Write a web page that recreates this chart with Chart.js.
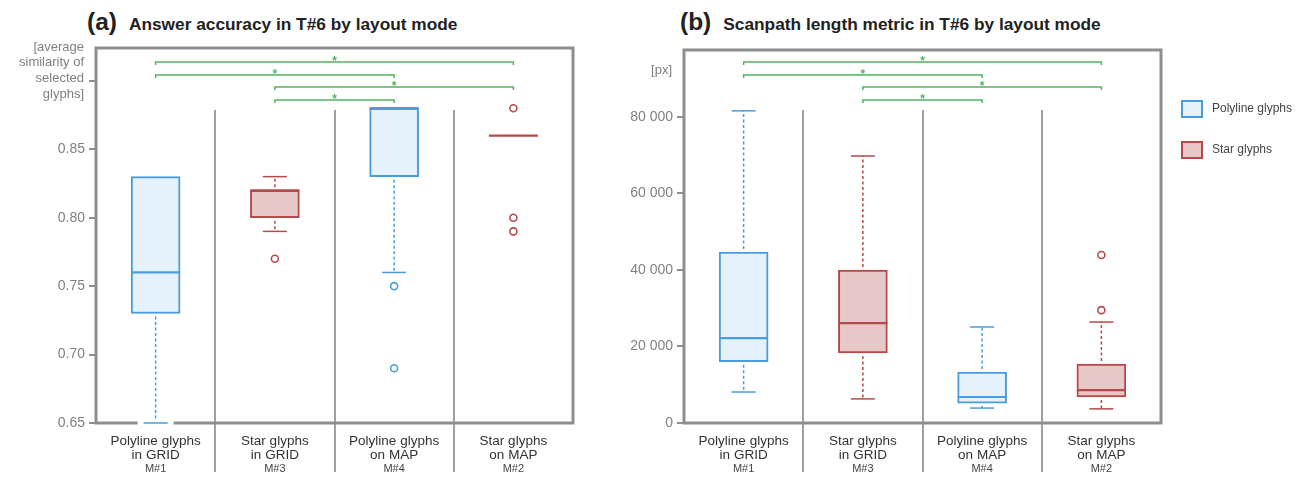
<!DOCTYPE html>
<html>
<head>
<meta charset="utf-8">
<title>T#6 layout modes</title>
<script src="https://cdn.jsdelivr.net/npm/chart.js@4.4.0/dist/chart.umd.min.js"></script>
<style>
  body { margin: 0; background: #fff; width: 1299px; height: 478px; overflow: hidden; position: relative;
         font-family: "Liberation Sans", Arial, sans-serif; }
  canvas { position: absolute; top: 0; }
  #accChart { left: 0; }
  #scanChart { left: 600px; }
  .title { position: absolute; top: 7px; font-size: 24px; line-height: 30px; white-space: nowrap; color: #222; }
  .title .tag { font-weight: bold; font-size: 24.5px; }
  .title .txt { font-weight: bold; font-size: 17.3px; margin-left: 12px; }
</style>
</head>
<body>
<div class="title" style="left:87px"><span class="tag">(a)</span><span class="txt">Answer accuracy in T#6 by layout mode</span></div>
<div class="title" style="left:680px"><span class="tag">(b)</span><span class="txt">Scanpath length metric in T#6 by layout mode</span></div>
<canvas id="accChart" width="600" height="478"></canvas>
<canvas id="scanChart" width="699" height="478"></canvas>
<script>
// Categories (layout modes)
const categoryLines = [["Polyline glyphs", "in GRID"], ["Star glyphs", "in GRID"], ["Polyline glyphs", "on MAP"], ["Star glyphs", "on MAP"]];
const modeCodes = ["M#1", "M#3", "M#4", "M#2"];
const glyphTypes = ["Polyline glyphs", "Star glyphs", "Polyline glyphs", "Star glyphs"];

// (a) answer accuracy - box plot stats
const accMin = [0.65, 0.79, 0.76, 0.86];
const accQ1 = [0.73, 0.80, 0.83, 0.86];
const accMedian = [0.76, 0.82, 0.88, 0.86];
const accQ3 = [0.83, 0.82, 0.88, 0.86];
const accMax = [0.83, 0.83, 0.88, 0.86];
const accOutliers = [[], [0.77], [0.75, 0.69], [0.88, 0.80, 0.79]];
const accTicks = [0.65, 0.70, 0.75, 0.80, 0.85, 0.90];
const accUnit = ["[average", "similarity of", "selected", "glyphs]"];

// (b) scanpath length - box plot stats
const scanMin = [8100, 6300, 3900, 3700];
const scanQ1 = [16000, 18300, 5200, 6800];
const scanMedian = [22200, 26100, 6800, 8600];
const scanQ3 = [44700, 40000, 13300, 15400];
const scanMax = [81600, 69800, 25100, 26400];
const scanOutliers = [[], [], [], [43900, 29500]];
const scanTicks = [0, 20000, 40000, 60000, 80000];
const scanUnit = ["[px]"];

// significant pairs (category indexes), top row first
const sigPairs = [[0, 3], [0, 2], [1, 3], [1, 2]];

const colors = {
  "Polyline glyphs": { stroke: "#4a9ddc", fill: "#e6f2fb" },
  "Star glyphs": { stroke: "#b64a4b", fill: "#e7c8c8" },
};
const frameColor = "#8e8e8e";
const sepColor = "#a0a0a0";
const green = "#55b262";
const greyText = "#808080";
const fontFamily = '"Liberation Sans", Arial, sans-serif';
const BOX_W = 49;
const CAP_W = 24;
const BRACKET_ROWS = [62, 75, 87, 100];

function formatThousands(v) {
  return String(v).replace(/\B(?=(\d{3})+(?!\d))/g, " ");
}

function panelPlugin(p) {
  return {
    id: "panel",
    beforeDatasetsDraw(chart) {
      const ctx = chart.ctx;
      const area = chart.chartArea;
      const xs = chart.scales.x;
      ctx.save();
      // separators between layout modes
      ctx.strokeStyle = sepColor;
      ctx.lineWidth = 2;
      for (let i = 0; i < modeCodes.length - 1; i++) {
        const x = Math.round((xs.getPixelForValue(i) + xs.getPixelForValue(i + 1)) / 2);
        ctx.beginPath();
        ctx.moveTo(x, 110);
        ctx.lineTo(x, area.bottom + 49);
        ctx.stroke();
      }
      // frame
      ctx.strokeStyle = frameColor;
      ctx.lineWidth = 3;
      ctx.strokeRect(area.left, area.top, area.right - area.left, area.bottom - area.top);
      // significance brackets
      ctx.strokeStyle = green;
      ctx.fillStyle = green;
      ctx.lineWidth = 1.5;
      ctx.font = "bold 12px " + fontFamily;
      ctx.textAlign = "center";
      ctx.textBaseline = "alphabetic";
      sigPairs.forEach((pair, r) => {
        const x1 = xs.getPixelForValue(pair[0]);
        const x2 = xs.getPixelForValue(pair[1]);
        const y = BRACKET_ROWS[r];
        ctx.beginPath();
        ctx.moveTo(x1, y + 3);
        ctx.lineTo(x1, y);
        ctx.lineTo(x2, y);
        ctx.lineTo(x2, y + 3);
        ctx.stroke();
        ctx.fillText("*", (x1 + x2) / 2, y + 3);
      });
      // unit label
      ctx.fillStyle = greyText;
      ctx.font = "13px " + fontFamily;
      ctx.textAlign = "right";
      ctx.textBaseline = "middle";
      p.unit.forEach((line, k) => {
        ctx.fillText(line, p.unitX, p.unitY + k * 15.7);
      });
      ctx.restore();
    },
    afterDatasetsDraw(chart) {
      const ctx = chart.ctx;
      const area = chart.chartArea;
      const xs = chart.scales.x;
      const ys = chart.scales.y;
      ctx.save();
      for (let i = 0; i < modeCodes.length; i++) {
        const c = colors[glyphTypes[i]];
        const x = xs.getPixelForValue(i);
        const whiskers = [];
        if (p.min[i] < p.q1[i]) whiskers.push([p.q1[i], p.min[i]]);
        if (p.max[i] > p.q3[i]) whiskers.push([p.q3[i], p.max[i]]);
        whiskers.forEach(([from, to]) => {
          const y1 = ys.getPixelForValue(from);
          const y2 = ys.getPixelForValue(to);
          const dir = y2 > y1 ? 1 : -1;
          ctx.strokeStyle = c.stroke;
          ctx.lineWidth = 1.5;
          ctx.setLineDash([3, 2.5]);
          ctx.beginPath();
          ctx.moveTo(x, y1 + dir * 3);
          ctx.lineTo(x, y2);
          ctx.stroke();
          ctx.setLineDash([]);
          if (Math.abs(y2 - area.bottom) < 3) {
            ctx.strokeStyle = "#fff";
            ctx.lineWidth = 5;
            ctx.beginPath();
            ctx.moveTo(x - CAP_W / 2 - 6, y2);
            ctx.lineTo(x + CAP_W / 2 + 6, y2);
            ctx.stroke();
          }
          ctx.strokeStyle = c.stroke;
          ctx.lineWidth = 1.5;
          ctx.beginPath();
          ctx.moveTo(x - CAP_W / 2, y2);
          ctx.lineTo(x + CAP_W / 2, y2);
          ctx.stroke();
        });
        // median
        const ym = ys.getPixelForValue(p.median[i]);
        ctx.strokeStyle = c.stroke;
        ctx.lineWidth = 2.2;
        ctx.beginPath();
        ctx.moveTo(x - BOX_W / 2, ym);
        ctx.lineTo(x + BOX_W / 2, ym);
        ctx.stroke();
      }
      ctx.restore();
    },
    afterDraw(chart) {
      const ctx = chart.ctx;
      const xs = chart.scales.x;
      ctx.save();
      ctx.textAlign = "center";
      ctx.textBaseline = "middle";
      for (let i = 0; i < modeCodes.length; i++) {
        const x = xs.getPixelForValue(i);
        ctx.fillStyle = "#333";
        ctx.font = "13.5px " + fontFamily;
        ctx.fillText(categoryLines[i][0], x, 441);
        ctx.fillText(categoryLines[i][1], x, 455);
        ctx.font = "11px " + fontFamily;
        ctx.fillStyle = "#444";
        ctx.fillText(modeCodes[i], x, 469);
      }
      if (p.legend) {
        const types = Object.keys(colors);
        types.forEach((t, k) => {
          const y = 101 + k * 41;
          ctx.fillStyle = colors[t].fill;
          ctx.strokeStyle = colors[t].stroke;
          ctx.lineWidth = 2;
          ctx.fillRect(582, y, 20, 16);
          ctx.strokeRect(582, y, 20, 16);
          ctx.fillStyle = "#444";
          ctx.font = "12px " + fontFamily;
          ctx.textAlign = "left";
          ctx.fillText(t, 612, y + 8);
        });
      }
      ctx.restore();
    },
  };
}

function buildPanel(canvasId, p) {
  const datasets = [];
  Object.keys(colors).forEach((type) => {
    const c = colors[type];
    datasets.push({
      type: "bar",
      label: type,
      data: p.q1.map((q, i) => (glyphTypes[i] === type ? [q, p.q3[i]] : null)),
      backgroundColor: c.fill,
      borderColor: c.stroke,
      borderWidth: 2,
      borderSkipped: false,
      grouped: false,
      barThickness: BOX_W,
    });
    datasets.push({
      type: "scatter",
      label: type + " outliers",
      data: p.outliers.flatMap((arr, i) =>
        glyphTypes[i] === type ? arr.map((v) => ({ x: modeCodes[i], y: v })) : []
      ),
      pointStyle: "circle",
      radius: 3.5,
      borderWidth: 1.6,
      borderColor: c.stroke,
      backgroundColor: "#fff",
    });
  });

  return new Chart(document.getElementById(canvasId), {
    type: "bar",
    data: { labels: modeCodes, datasets: datasets },
    options: {
      responsive: false,
      animation: false,
      devicePixelRatio: 1,
      layout: { padding: { left: 0, top: p.top, right: p.right, bottom: 0 } },
      plugins: { legend: { display: false }, tooltip: { enabled: false } },
      scales: {
        x: {
          type: "category",
          offset: true,
          ticks: { display: false },
          grid: { display: false },
          border: { display: false },
          afterFit: (s) => { s.height = 55; },
        },
        y: {
          min: p.yMin,
          max: p.yMax,
          afterFit: (s) => { s.width = p.axisWidth; },
          afterBuildTicks: (s) => { s.ticks = p.ticks.map((v) => ({ value: v })); },
          ticks: {
            callback: p.format,
            color: greyText,
            padding: 4,
            font: { family: fontFamily, size: 14 },
          },
          grid: { drawOnChartArea: false, drawTicks: true, tickLength: 7, color: frameColor, lineWidth: 2 },
          border: { display: false },
        },
      },
    },
    plugins: [panelPlugin(p)],
  });
}

buildPanel("accChart", {
  min: accMin, q1: accQ1, median: accMedian, q3: accQ3, max: accMax, outliers: accOutliers,
  ticks: accTicks, yMin: 0.65, yMax: 0.924,
  format: (v) => (v >= 0.9 ? "" : v.toFixed(2)),
  unit: accUnit, unitX: 84, unitY: 47,
  axisWidth: 96, top: 48, right: 27, legend: false,
});

buildPanel("scanChart", {
  min: scanMin, q1: scanQ1, median: scanMedian, q3: scanQ3, max: scanMax, outliers: scanOutliers,
  ticks: scanTicks, yMin: 0, yMax: 97500,
  format: (v) => formatThousands(v),
  unit: scanUnit, unitX: 72, unitY: 70,
  axisWidth: 84, top: 50, right: 138, legend: true,
});
</script>
</body>
</html>
